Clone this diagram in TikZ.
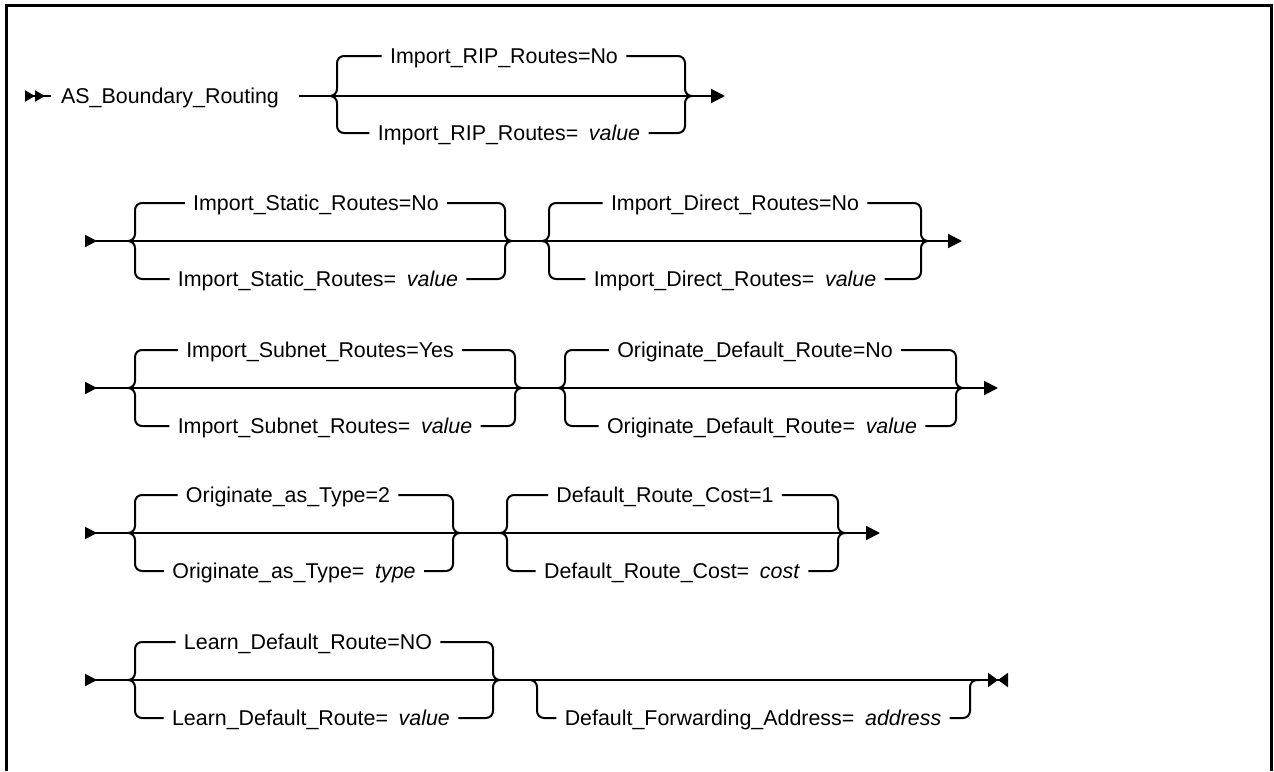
\documentclass[tikz,border=0pt]{standalone}
\usepackage{fontspec}
\setmainfont{Liberation Sans}
\usepackage{tikz}
\usetikzlibrary{arrows.meta, positioning}
\definecolor{mydark}{RGB}{0,0,0}
\tikzset{
  kw/.style={inner xsep=4pt, inner ysep=0pt, text height=7.7pt, text depth=0pt,
    font=\fontsize{10.7pt}{12pt}\selectfont, anchor=center},
  rail/.style={line width=1pt, color=mydark, rounded corners=3.5pt},
  railout/.style={rail, -{Triangle[length=7pt, width=7pt]}},
  railin/.style={rail, {Triangle[reversed, length=6pt, width=6pt]}-{Triangle[length=7pt, width=7pt]}},
  frame/.style={line width=1.5pt, color=mydark}
}

\begin{document}
\begin{tikzpicture}[x=0.5pt, y=-0.5pt]
  \useasboundingbox (0,0) rectangle (1274,771);
  \draw[frame] (6.5,771) -- (6.5,5.5) -- (1271.5,5.5) -- (1271.5,771);

  % row 1
  \coordinate (s1) at (25,96);
  \coordinate (e1) at (725,96);
  \node[kw, inner xsep=5pt] (asb) at (170,96) {AS\_Boundary\_Routing};
  \coordinate (ripL) at (330,96);
  \coordinate (ripR) at (692,96);
  \node[kw] (rip)  at (504,56)  {Import\_RIP\_Routes=No};
  \node[kw] (ripv) at (509,133) {Import\_RIP\_Routes=\enspace\textit{value}};
  \draw[rail, {Triangle[reversed, length=5pt, width=5.5pt] Triangle[reversed, length=5pt, width=5.5pt]}-] (s1) -- (asb.west);
  \draw[railout] ([xshift=5pt]asb.east) -- (e1);
  \draw[rail] (ripL) -- ++(7,0) |- (rip.west);
  \draw[rail] (ripL) -- ++(7,0) |- (ripv.west);
  \draw[rail] (rip.east) -| ([xshift=-3.5pt]ripR) -- (ripR);
  \draw[rail] (ripv.east) -| ([xshift=-3.5pt]ripR) -- (ripR);

  % row 2
  \coordinate (s2) at (85,241);
  \coordinate (e2) at (962,241);
  \draw[railin] (s2) -- (e2);
  \coordinate (statL) at (128,241);
  \coordinate (statR) at (512,241);
  \node[kw] (stat)  at (316,203) {Import\_Static\_Routes=No};
  \node[kw] (statv) at (318,279) {Import\_Static\_Routes=\enspace\textit{value}};
  \draw[rail] (statL) -- ++(7,0) |- (stat.west);
  \draw[rail] (statL) -- ++(7,0) |- (statv.west);
  \draw[rail] (stat.east) -| ([xshift=-3.5pt]statR) -- (statR);
  \draw[rail] (statv.east) -| ([xshift=-3.5pt]statR) -- (statR);
  \coordinate (dirL) at (542,241);
  \coordinate (dirR) at (928,241);
  \node[kw] (dir)  at (735,203) {Import\_Direct\_Routes=No};
  \node[kw] (dirv) at (735,279) {Import\_Direct\_Routes=\enspace\textit{value}};
  \draw[rail] (dirL) -- ++(7,0) |- (dir.west);
  \draw[rail] (dirL) -- ++(7,0) |- (dirv.west);
  \draw[rail] (dir.east) -| ([xshift=-3.5pt]dirR) -- (dirR);
  \draw[rail] (dirv.east) -| ([xshift=-3.5pt]dirR) -- (dirR);

  % row 3
  \coordinate (s3) at (85,388);
  \coordinate (e3) at (998,388);
  \draw[railin] (s3) -- (e3);
  \coordinate (subL) at (128,388);
  \coordinate (subR) at (522,388);
  \node[kw] (sub)  at (320,350) {Import\_Subnet\_Routes=Yes};
  \node[kw] (subv) at (325,426) {Import\_Subnet\_Routes=\enspace\textit{value}};
  \draw[rail] (subL) -- ++(7,0) |- (sub.west);
  \draw[rail] (subL) -- ++(7,0) |- (subv.west);
  \draw[rail] (sub.east) -| ([xshift=-3.5pt]subR) -- (subR);
  \draw[rail] (subv.east) -| ([xshift=-3.5pt]subR) -- (subR);
  \coordinate (origL) at (558,388);
  \coordinate (origR) at (963,388);
  \node[kw] (orig)  at (755,350) {Originate\_Default\_Route=No};
  \node[kw] (origv) at (762,426) {Originate\_Default\_Route=\enspace\textit{value}};
  \draw[rail] (origL) -- ++(7,0) |- (orig.west);
  \draw[rail] (origL) -- ++(7,0) |- (origv.west);
  \draw[rail] (orig.east) -| ([xshift=-3.5pt]origR) -- (origR);
  \draw[rail] (origv.east) -| ([xshift=-3.5pt]origR) -- (origR);

  % row 4
  \coordinate (s4) at (85,533);
  \coordinate (e4) at (880,533);
  \draw[railin] (s4) -- (e4);
  \coordinate (typeL) at (128,533);
  \coordinate (typeR) at (460,533);
  \node[kw] (type)  at (288,495) {Originate\_as\_Type=2};
  \node[kw] (typev) at (294,571) {Originate\_as\_Type=\enspace\textit{type}};
  \draw[rail] (typeL) -- ++(7,0) |- (type.west);
  \draw[rail] (typeL) -- ++(7,0) |- (typev.west);
  \draw[rail] (type.east) -| ([xshift=-3.5pt]typeR) -- (typeR);
  \draw[rail] (typev.east) -| ([xshift=-3.5pt]typeR) -- (typeR);
  \coordinate (costL) at (500,533);
  \coordinate (costR) at (845,533);
  \node[kw] (cost)  at (665,495) {Default\_Route\_Cost=1};
  \node[kw] (costv) at (672,571) {Default\_Route\_Cost=\enspace\textit{cost}};
  \draw[rail] (costL) -- ++(7,0) |- (cost.west);
  \draw[rail] (costL) -- ++(7,0) |- (costv.west);
  \draw[rail] (cost.east) -| ([xshift=-3.5pt]costR) -- (costR);
  \draw[rail] (costv.east) -| ([xshift=-3.5pt]costR) -- (costR);

  % row 5
  \coordinate (s5) at (85,680);
  \coordinate (e5) at (1008,680);
  \draw[rail, {Triangle[reversed, length=6pt, width=6pt]}-{Triangle[length=5pt, width=7pt] Triangle[reversed, length=5pt, width=7pt]}] (s5) -- (e5);
  \coordinate (learnL) at (128,680);
  \coordinate (learnR) at (500,680);
  \node[kw] (learn)  at (308,642) {Learn\_Default\_Route=NO};
  \node[kw] (learnv) at (311,718) {Learn\_Default\_Route=\enspace\textit{value}};
  \draw[rail] (learnL) -- ++(7,0) |- (learn.west);
  \draw[rail] (learnL) -- ++(7,0) |- (learnv.west);
  \draw[rail] (learn.east) -| ([xshift=-3.5pt]learnR) -- (learnR);
  \draw[rail] (learnv.east) -| ([xshift=-3.5pt]learnR) -- (learnR);
  \coordinate (fwdL) at (530,680);
  \coordinate (fwdR) at (980,680);
  \node[kw] (fwd) at (753,718) {Default\_Forwarding\_Address=\enspace\textit{address}};
  \draw[rail] (fwdL) -- ++(7,0) |- (fwd.west);
  \draw[rail] (fwd.east) -| ([xshift=-5pt]fwdR) -- (fwdR);
\end{tikzpicture}
\end{document}
